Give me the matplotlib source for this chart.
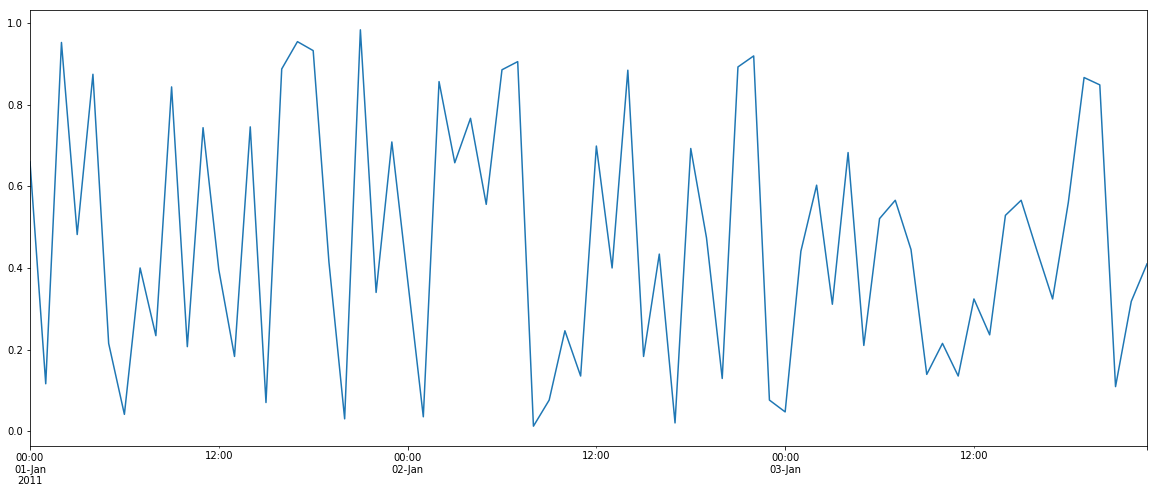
import matplotlib
matplotlib.use("Agg")
import matplotlib.pyplot as plt
import pandas as pd
import numpy as np

start = "2011-01-01 00:00"
values = [
    0.66, 0.116, 0.953, 0.482, 0.875, 0.215, 0.041, 0.400, 0.234, 0.844,
    0.207, 0.744, 0.396, 0.183, 0.746, 0.070, 0.888, 0.955, 0.933, 0.415,
    0.030, 0.984, 0.340, 0.709, 0.372, 0.035, 0.857, 0.658, 0.767, 0.556,
    0.886, 0.906, 0.012, 0.076, 0.246, 0.135, 0.699, 0.400, 0.885, 0.183,
    0.434, 0.020, 0.693, 0.474, 0.129, 0.893, 0.920, 0.076, 0.047, 0.441,
    0.603, 0.311, 0.683, 0.210, 0.521, 0.566, 0.445, 0.139, 0.215, 0.135,
    0.324, 0.236, 0.529, 0.566, 0.443, 0.324, 0.561, 0.867, 0.849, 0.109,
    0.318, 0.410,
]

idx = pd.date_range(start, periods=len(values), freq="h")
s = pd.Series(values, index=idx)

plt.rcParams["font.size"] = 10
fig = plt.figure(figsize=(1156 / 72, 492 / 72), dpi=72)
ax = fig.add_axes([30 / 1156, 1 - 446 / 492, (1147 - 30) / 1156, (446 - 10) / 492])
s.plot(ax=ax, color="#1f77b4", linewidth=1.5)
ax.set_xlabel("")
fig.savefig("out.png", dpi=72)
